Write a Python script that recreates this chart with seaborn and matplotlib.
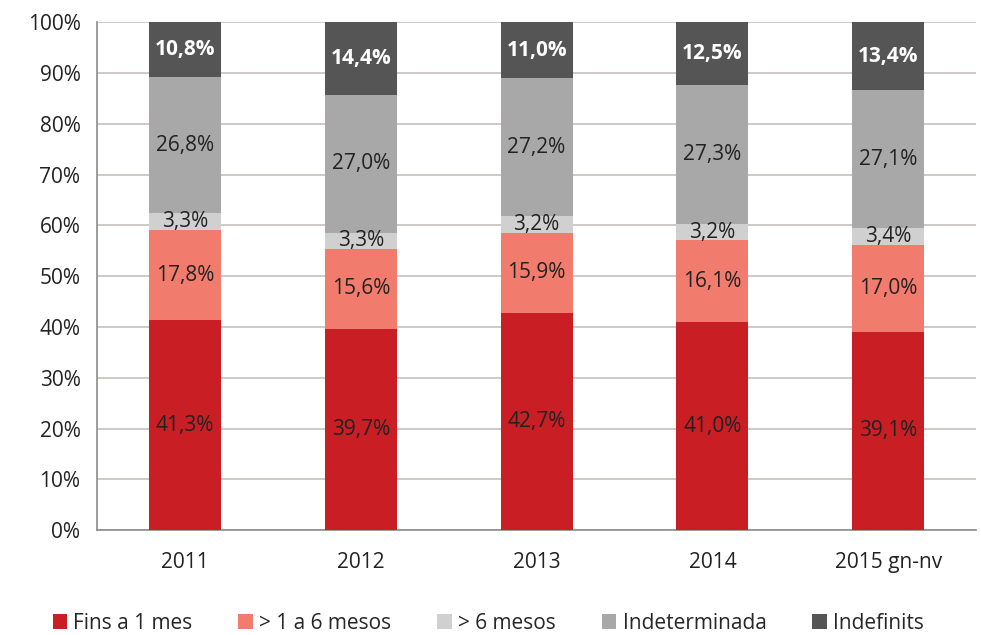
import pandas as pd
import matplotlib.pyplot as plt
import seaborn as sns

# Data (percentages per year)
years = ['2011', '2012', '2013', '2014', '2015 gn-nv']
series = ['Fins a 1 mes', '> 1 a 6 mesos', '> 6 mesos', 'Indeterminada', 'Indefinits']
fins_1_mes = [41.3, 39.7, 42.7, 41.0, 39.1]
de_1_a_6 = [17.8, 15.6, 15.9, 16.1, 17.0]
mes_6 = [3.3, 3.3, 3.2, 3.2, 3.4]
indeterminada = [26.8, 27.0, 27.2, 27.3, 27.1]
indefinits = [10.8, 14.4, 11.0, 12.5, 13.4]

colors = ['#C81E24', '#F17C6E', '#D0D0D0', '#A8A8A8', '#555555']
label_colors = ['#222222', '#222222', '#222222', '#222222', 'white']

df = pd.DataFrame({'year': years, series[0]: fins_1_mes, series[1]: de_1_a_6,
                   series[2]: mes_6, series[3]: indeterminada, series[4]: indefinits})

sns.set_style('white')
plt.rcParams['font.family'] = ['Open Sans', 'DejaVu Sans']

fig = plt.figure(figsize=(9.81, 6.35), dpi=100)
ax = fig.add_axes([0.099, 0.165, 0.896, 0.8])

bottom = [0.0] * len(years)
for s, c, lc in zip(series, colors, label_colors):
    sns.barplot(data=df, x='year', y=s, color=c, bottom=bottom, width=0.41,
                ax=ax, label=s, saturation=1, zorder=3, linewidth=0)
    for i, v in enumerate(df[s]):
        txt = f"{v:.1f}".replace('.', ',') + '%'
        ax.text(i, bottom[i] + v / 2, txt, ha='center', va='center',
                fontsize=15, color=lc, zorder=4,
                fontweight='bold' if lc == 'white' else 'normal')
    bottom = [b + v for b, v in zip(bottom, df[s])]

ax.set_ylim(0, 100)
ax.set_xlim(-0.5, 4.5)
ax.set_yticks(range(0, 101, 10))
ax.set_yticklabels([f'{t}%' for t in range(0, 101, 10)], fontsize=15, color='#222222')
ax.set_xticklabels(years, fontsize=15, color='#222222')
ax.set_xlabel('')
ax.set_ylabel('')
ax.grid(axis='y', color='#C8BEBE', linewidth=1.2, zorder=0)
for side in ['top', 'right']:
    ax.spines[side].set_visible(False)
for side in ['left', 'bottom']:
    ax.spines[side].set_color('#8C8C8C')
    ax.spines[side].set_linewidth(1.2)
ax.tick_params(axis='y', length=6, color='#8C8C8C', pad=6)
ax.tick_params(axis='x', length=0, pad=16)

ax.legend(loc='center', bbox_to_anchor=(0.445, -0.183), ncol=5, frameon=False,
          fontsize=15, handlelength=0.7, handleheight=0.7, handletextpad=0.3,
          columnspacing=2.2)

plt.savefig('out.png', dpi=100)
